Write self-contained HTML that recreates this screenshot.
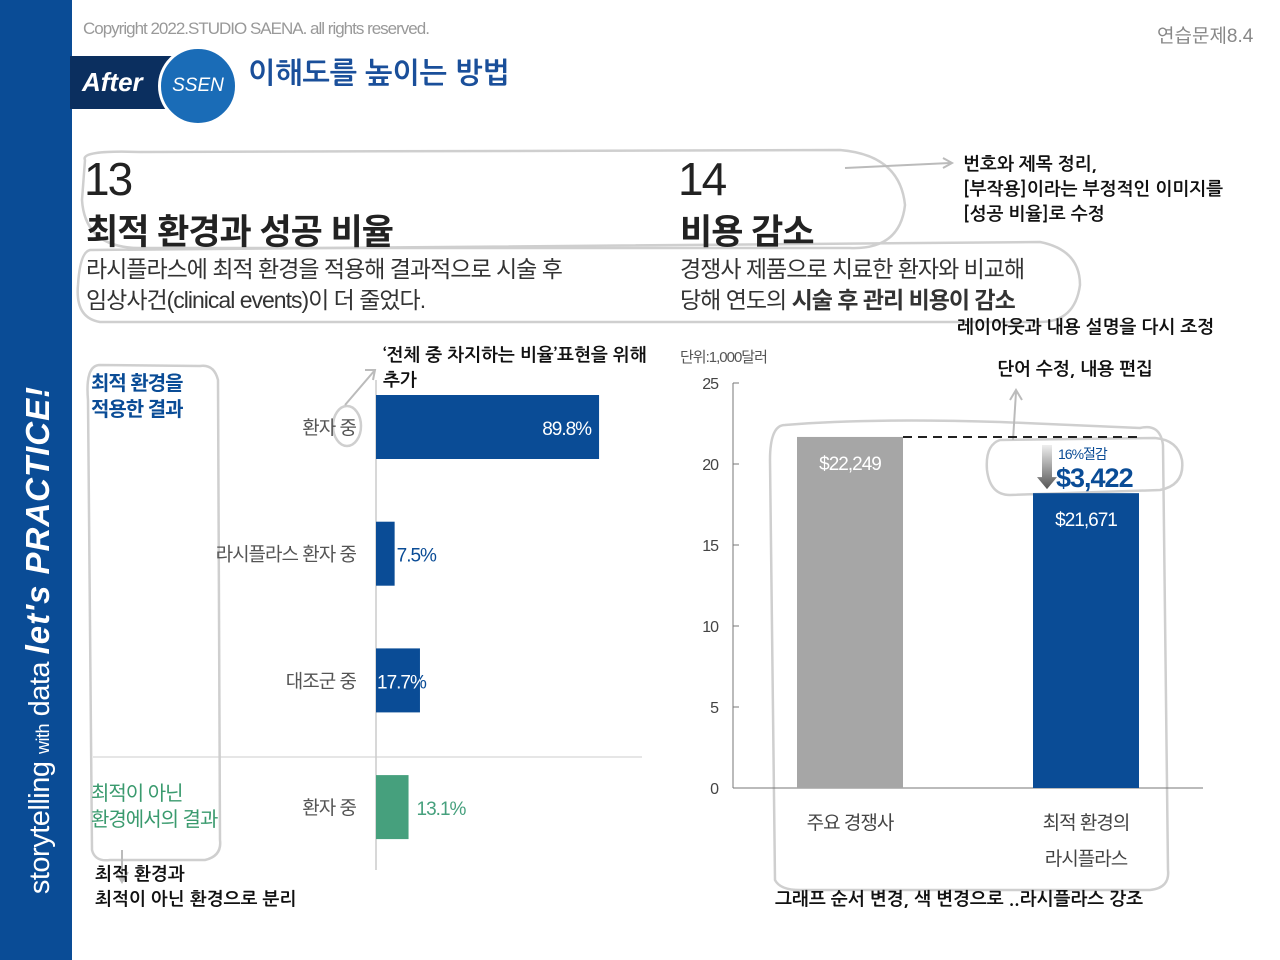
<!DOCTYPE html>
<html><head><meta charset="utf-8"><style>
body{margin:0;width:1280px;height:960px;position:relative;background:#fff;font-family:"Liberation Sans","Noto Sans CJK KR",sans-serif;overflow:hidden}
.a{position:absolute;white-space:nowrap}
.hand{font-family:"NanumGothic","Noto Sans CJK KR",sans-serif;font-weight:bold;color:#111}
</style></head><body>
<div class="a" style="left:0;top:0;width:72px;height:960px;background:#0a4c96"></div>
<div class="a" style="left:38px;top:640px;transform:translate(-50%,-50%) rotate(-90deg);color:#fff;font-size:29px;letter-spacing:-0.5px">storytelling <span style="font-size:18px">with</span> data <span style="font-style:italic;font-weight:bold;font-size:33px;letter-spacing:1px">let's PRACTICE!</span></div>
<div class="a" style="left:83px;top:19px;font-size:17px;color:#999;letter-spacing:-1px">Copyright 2022.STUDIO SAENA. all rights reserved.</div>
<div class="a" style="left:1157px;top:21px;font-size:19px;color:#888">연습문제8.4</div>
<div class="a" style="left:70px;top:56px;width:100px;height:53px;background:#0b2f5f;color:#fff;font-size:26px;line-height:53px;padding-left:12px;font-style:italic;font-weight:bold">After</div>
<div class="a" style="left:158px;top:46px;width:74px;height:74px;border-radius:50%;background:#1a6cb7;border:3px solid #fff;color:#fff;font-size:19px;line-height:74px;text-align:center;font-style:italic">SSEN</div>
<div class="a hand" style="left:248px;top:60px;font-size:29px;color:#1a4f9a">이해도를 높이는 방법</div>

<svg class="a" style="left:0;top:0" width="1280" height="960">
<g fill="none" stroke="#cfcfcf" stroke-width="2.5">
<path d="M85,160 Q80,150 140,152 L840,150 Q900,155 905,205 Q900,250 850,248 L140,248 Q85,248 82,200 Z"/>
<path d="M90,250 L1040,242 Q1080,250 1080,285 Q1075,322 1040,322 L100,322 Q75,318 78,285 Q80,252 90,250 Z"/>
<path d="M100,365 Q85,365 88,400 L92,850 Q95,862 110,860 L205,860 Q222,856 220,840 L218,380 Q214,364 200,366 Z"/>
<path d="M785,425 Q770,425 770,460 L775,880 Q780,890 800,890 L1150,890 Q1170,888 1168,870 L1163,445 Q1160,423 1140,428 L1000,422 Q870,418 785,425 Z"/>
<path d="M1000,440 Q985,445 987,470 Q990,495 1010,495 L1160,490 Q1185,485 1182,460 Q1178,440 1155,438 Z"/>
<ellipse cx="347" cy="426" rx="14" ry="20"/>
</g>
<g fill="none" stroke="#bbb" stroke-width="2">
<path d="M845,168 L950,163"/><path d="M943,158 L952,163 L943,168"/>
<path d="M345,405 L375,370 M365,370 L375,370 L373,380"/>
<path d="M1013,440 L1016,392 M1010,400 L1016,390 L1022,400"/>
<path d="M122,850 L122,880 M116,872 L122,882 L128,872"/>
</g>
</svg>

<div class="a" style="left:84px;top:152px;font-size:46px;color:#222;letter-spacing:-2px">13</div>
<div class="a" style="left:86px;top:204px;font-size:35px;font-weight:bold;color:#222;letter-spacing:-1px">최적 환경과 성공 비율</div>
<div class="a" style="left:86px;top:254px;font-size:23px;color:#333;line-height:31px;letter-spacing:-1px">라시플라스에 최적 환경을 적용해 결과적으로 시술 후<br>임상사건(clinical events)이 더 줄었다.</div>
<div class="a" style="left:678px;top:152px;font-size:46px;color:#222;letter-spacing:-2px">14</div>
<div class="a" style="left:680px;top:204px;font-size:35px;font-weight:bold;color:#222;letter-spacing:-1px">비용 감소</div>
<div class="a" style="left:680px;top:254px;font-size:23px;color:#333;line-height:31px;letter-spacing:-1px">경쟁사 제품으로 치료한 환자와 비교해<br>당해 연도의 <b>시술 후 관리 비용이 감소</b></div>

<div class="a hand" style="left:963px;top:152px;font-size:18px;line-height:25px">번호와 제목 정리,<br>[부작용]이라는 부정적인 이미지를<br>[성공 비율]로 수정</div>
<div class="a hand" style="left:957px;top:318px;font-size:18px">레이아웃과 내용 설명을 다시 조정</div>
<div class="a hand" style="left:383px;top:343px;font-size:18px;line-height:25px">‘전체 중 차지하는 비율’표현을 위해<br>추가</div>
<div class="a hand" style="left:997px;top:360px;font-size:18px">단어 수정, 내용 편집</div>
<div class="a hand" style="left:95px;top:862px;font-size:18px;line-height:25px">최적 환경과<br>최적이 아닌 환경으로 분리</div>
<div class="a hand" style="left:775px;top:890px;font-size:18px">그래프 순서 변경, 색 변경으로 ..라시플라스 강조</div>

<div class="a" style="left:91px;top:371px;font-size:20px;color:#0a4c96;line-height:26px;font-weight:bold;letter-spacing:-1px">최적 환경을<br>적용한 결과</div>
<div class="a" style="left:91px;top:781px;font-size:20px;color:#3a9a6e;line-height:26px;letter-spacing:-1px">최적이 아닌<br>환경에서의 결과</div>

<svg class="a" id="left" style="left:0;top:0" width="700" height="960"></svg>
<svg class="a" id="right" style="left:0;top:0" width="1280" height="960"></svg>

<script>
const leftCats=["환자 중","라시플라스 환자 중","대조군 중","환자 중"];
const leftVals=[89.8,7.5,17.7,13.1];
const leftLabels=["89.8%","7.5%","17.7%","13.1%"];
const rightCats=["주요 경쟁사","최적 환경의|라시플라스"];
const rightVals=[21.67,18.2];
const rightLabels=["$22,249","$21,671"];
const rightTicks=[0,5,10,15,20,25];
const NS="http://www.w3.org/2000/svg";
function mk(p,t,a,txt){const e=document.createElementNS(NS,t);for(const k in a)e.setAttribute(k,a[k]);if(txt!=null)e.textContent=txt;p.appendChild(e);return e;}
const L=document.getElementById('left');
const lx=v=>376+v*2.484;
const ly=i=>427+i*126.7;
const ldefs=mk(L,'defs',{});
let ax=mk(L,'line',{x1:376,y1:380,x2:376,y2:870,stroke:'#ccc','stroke-width':1.5});


let sep=mk(L,'line',{x1:93,y1:757,x2:642,y2:757,stroke:'#ccc','stroke-width':1});


leftVals.forEach((v,i)=>{
 const col=i===3?'#46a07d':'#0a4c96';
 const r=mk(L,'rect',{x:376,y:ly(i)-32,width:lx(v)-376,height:64,fill:col});
 
 
 const c=mk(L,'text',{x:356,y:ly(i)+7,'text-anchor':'end','font-size':19,fill:'#555','letter-spacing':'-1'},leftCats[i]);
 
 
 const attrs={y:ly(i)+8,'font-size':19,'letter-spacing':'-1'};
 if(i===0){
  const t=mk(L,'text',Object.assign({x:lx(v)-8,'text-anchor':'end',fill:'#fff'},attrs),leftLabels[i]);
  
  
 } else if(i===2){
  const cp=mk(ldefs,'clipPath',{id:'cp'+i});
  mk(cp,'rect',{x:376,y:ly(i)-32,width:lx(v)-376,height:64});
  const t=mk(L,'text',Object.assign({x:377,fill:'#0a4c96'},attrs),leftLabels[i]);
  
  
  const t2=mk(L,'text',Object.assign({x:377,fill:'#fff','clip-path':'url(#cp'+i+')'},attrs),leftLabels[i]);
  
  
 } else {
  const t=mk(L,'text',Object.assign({x:lx(v)+(i===3?8:2),fill:col},attrs),leftLabels[i]);
  
  
 }
});
const R=document.getElementById('right');
const ry=v=>788-v*16.2;
const rx=i=>850+i*236;
let u=mk(R,'text',{x:680,y:362,'font-size':15,fill:'#555','letter-spacing':'-1'},'단위:1,000달러');


let ya=mk(R,'line',{x1:733,y1:ry(25),x2:733,y2:ry(0),stroke:'#777'});


let xa=mk(R,'line',{x1:733,y1:ry(0),x2:1203,y2:ry(0),stroke:'#777'});


rightTicks.forEach(t=>{
 const tk=mk(R,'line',{x1:733,y1:ry(t),x2:739,y2:ry(t),stroke:'#777'});
 
 
 const tl=mk(R,'text',{x:718,y:ry(t)+6,'text-anchor':'end','font-size':16,fill:'#444','letter-spacing':'-1'},t);
 
 
});
rightVals.forEach((v,i)=>{
 const r=mk(R,'rect',{x:rx(i)-53,y:ry(v),width:106,height:ry(0)-ry(v),fill:i?'#0a4c96':'#a6a6a6'});
 
 
 const t=mk(R,'text',{x:rx(i),y:ry(v)+33,'text-anchor':'middle','font-size':19,fill:'#fff','letter-spacing':'-1'},rightLabels[i]);
 
 
 rightCats[i].split('|').forEach((s,j)=>{
  const c=mk(R,'text',{x:rx(i),y:829+j*36,'text-anchor':'middle','font-size':19,fill:'#444','letter-spacing':'-1'},s);
  
  
 });
});
let d=mk(R,'line',{x1:rx(0)+53,y1:ry(rightVals[0]),x2:1140,y2:ry(rightVals[0]),stroke:'#222','stroke-width':2,'stroke-dasharray':'9,6'});


const defs=mk(R,'defs',{});const g=mk(defs,'linearGradient',{id:'ag',x1:0,y1:0,x2:0,y2:1});
mk(g,'stop',{offset:0,'stop-color':'#eee'});mk(g,'stop',{offset:1,'stop-color':'#555'});
let ar=mk(R,'path',{d:`M1042,${ry(rightVals[0])+8} h10 v${ry(rightVals[1])-ry(rightVals[0])-24} h5 l-10,12 l-10,-12 h5 z`,fill:'url(#ag)'});


let s1=mk(R,'text',{x:1058,y:459,'font-size':14,fill:'#0a4c96','letter-spacing':'-1'},'16%절감');


let s2=mk(R,'text',{x:1056,y:487,'font-size':27,'font-weight':'bold',fill:'#0a4c96','letter-spacing':'-1'},'$3,422');


</script>
</body></html>
